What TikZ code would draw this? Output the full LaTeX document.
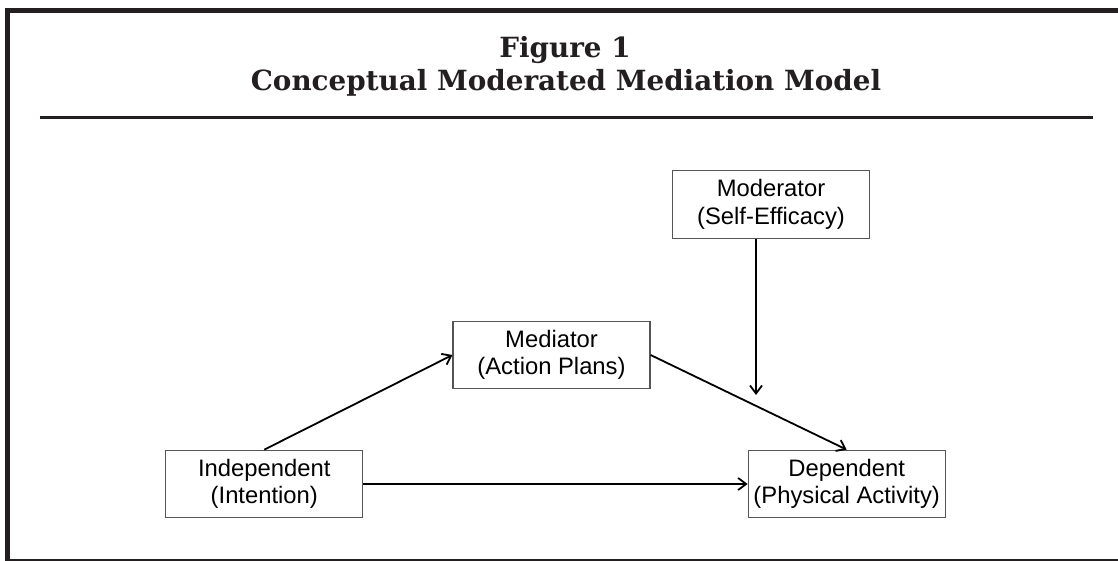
\documentclass[tikz,border=0pt]{standalone}
\usepackage{fontspec}
\setmainfont{Liberation Sans}
\newfontfamily\titlefont{DejaVu Serif}
\usetikzlibrary{arrows.meta,calc}
\definecolor{framecol}{HTML}{231F20}
\definecolor{boxgray}{HTML}{555555}
\begin{document}
\begin{tikzpicture}[x=1pt,y=-1pt,
  box/.style={draw=boxgray,line width=1.2pt,minimum width=197pt,minimum height=67.5pt,inner sep=0pt,align=center,font=\fontsize{23.8}{27.5}\selectfont},
  link/.style={line width=1.8pt,-{Straight Barb[length=8pt,width=12pt,line width=1.8pt]}},
  heavyrule/.style={draw=framecol,line width=5pt},
  title/.style={font=\titlefont\bfseries\fontsize{27.8}{30}\selectfont,anchor=base,inner sep=0pt,text=framecol},
]
\useasboundingbox (0,0) rectangle (1118,561);
% frame
\coordinate (tl) at (7.5,10.5);
\coordinate (tr) at (1118,10.5);
\coordinate (bl) at (7.5,561);
\draw[heavyrule] (5,10.5) -- (tr);
\draw[heavyrule] (7.5,8) -- (bl);
\coordinate (bbl) at (5,559.8);
\coordinate (bbr) at (1118,559.8);
\draw[draw=framecol,line width=1.5pt] (bbl) -- (bbr);
% title
\node[title] (t1) at (565,58) {Figure 1};
\node[title] (t2) at (566,91) {Conceptual Moderated Mediation Model};
\coordinate (rl) at (40,117.5);
\coordinate (rr) at (1093,117.5);
\draw[draw=framecol,line width=3pt] (rl) -- (rr);
% boxes
\node[box] (mod) at (771,204.5) {Moderator\\(Self-Efficacy)};
\node[box] (med) at (551.5,355) {Mediator\\(Action Plans)};
\node[box] (ind) at (264.3,484) {Independent\\(Intention)};
\node[box] (dep) at (846.7,484) {Dependent\\(Physical Activity)};
% connectors
\draw[link] (ind.north) -- (med.west);
\draw[link] (med.east) -- (dep.north);
\draw[link] (ind.east) -- (dep.west);
\coordinate (modtip) at (756,395);
\draw[link] (modtip |- mod.south) -- (modtip);
\end{tikzpicture}
\end{document}
